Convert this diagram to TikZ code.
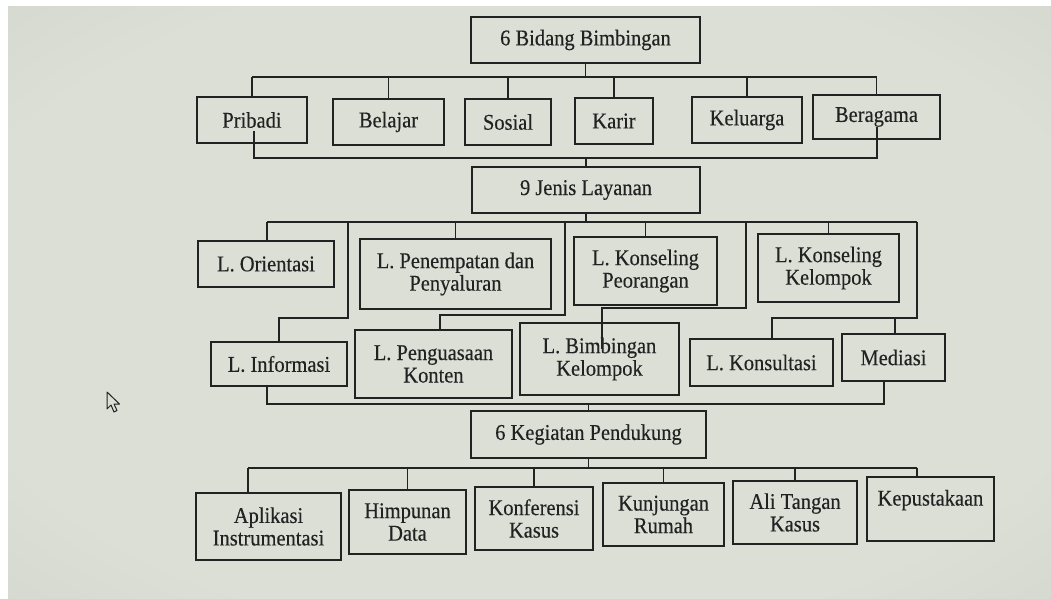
\documentclass[tikz,border=0pt]{standalone}
\usepackage{fontspec}
\setmainfont{Liberation Serif}
\newfontfamily\boxfont{Liberation Serif}[FakeStretch=0.91, FakeBold=0.3]
\usetikzlibrary{calc}
\definecolor{ink}{RGB}{34,34,34}
\definecolor{scrin}{RGB}{220,223,214}
\definecolor{scrmid}{RGB}{202,206,196}
\definecolor{scrout}{RGB}{156,162,152}
\pgfdeclareradialshading{screen}{\pgfpoint{0bp}{0bp}}{%
  color(0bp)=(scrin); color(28bp)=(scrin); color(50bp)=(scrmid); color(72bp)=(scrout)}
\begin{document}
\begin{tikzpicture}[x=1pt,y=-1pt,
  bx/.style={draw=ink, line width=1.8pt, text=ink, align=center, inner sep=0pt,
             font=\boxfont\fontsize{22.5}{22.5}\selectfont},
  heavy/.style={line width=2.4pt},
  sz/.style 2 args={minimum width=#1, minimum height=#2},
  wire/.style={draw=ink, line width=1.8pt}]
\useasboundingbox (0,0) rectangle (1051,599);
% screen background
\fill[white] (0,0) rectangle (1051,599);
\shade[shading=screen] (8,7) rectangle (1051,599);

% ---- level 1 ----
\node[bx, heavy, sz={229pt}{46pt}] (top) at (585.5,40) {6 Bidang Bimbingan};

% ---- level 2: bidang ----
\node[bx, heavy, sz={110pt}{46pt}] (pri) at (252,120)   {Pribadi};
\node[bx, heavy, sz={111pt}{46pt}] (bel) at (388.5,122) {Belajar};
\node[bx, heavy, sz={86pt}{46pt}]  (sos) at (508,122)   {Sosial};
\node[bx, heavy, sz={78pt}{46pt}]  (kar) at (614,121)   {Karir};
\node[bx, heavy, sz={110pt}{46pt}] (kel) at (747,120)   {Keluarga};
\node[bx, heavy, sz={127pt}{44pt}] (ber) at (876.5,117) {Beragama};

% ---- level 3: layanan ----
\node[bx, heavy, sz={228pt}{46pt}] (jen) at (586,190) {9 Jenis Layanan};

\node[bx, sz={136pt}{46pt}] (ori) at (266,264)     {L. Orientasi};
\node[bx, sz={191pt}{70pt}] (pen) at (455.5,274)   {L. Penempatan dan\\Penyaluran};
\node[bx, sz={143pt}{68pt}] (kpr) at (645.5,271)   {L. Konseling\\Peorangan};
\node[bx, sz={141pt}{68pt}] (kkl) at (828.5,268)   {L. Konseling\\Kelompok};

\node[bx, sz={136pt}{44pt}] (inf) at (279,364)     {L. Informasi};
\node[bx, sz={157pt}{68pt}] (pgu) at (433.5,364)   {L. Penguasaan\\Konten};
\node[bx, sz={159pt}{72pt}] (bim) at (599.5,359)   {L. Bimbingan\\Kelompok};
\node[bx, sz={143pt}{47pt}] (kon) at (761.5,362.5) {L. Konsultasi};
\node[bx, sz={103pt}{47pt}] (med) at (893.5,357.5) {Mediasi};

% ---- level 4: kegiatan pendukung ----
\node[bx, sz={235pt}{47pt}] (keg) at (588.5,434.5) {6 Kegiatan Pendukung};

\node[bx, sz={145pt}{67pt}] (apl) at (268.5,526.5) {Aplikasi\\Instrumentasi};
\node[bx, sz={117pt}{64pt}] (him) at (407.5,522)   {Himpunan\\Data};
\node[bx, sz={118pt}{63pt}] (kfr) at (534,518.5)   {Konferensi\\Kasus};
\node[bx, sz={121pt}{63pt}] (kjr) at (663.5,514.5) {Kunjungan\\Rumah};
\node[bx, sz={124pt}{63pt}] (ali) at (795,512.5)   {Ali Tangan\\Kasus};
\node[bx, sz={127pt}{64pt}] (kep) at (930.5,509)   {Kepustakaan\\\mbox{}};

% ---- connectors: bidang ----
\coordinate (b1L) at (252,77);
\coordinate (b1R) at (877,77);
\draw[wire] (top.south) -- (top.south |- b1L);
\draw[wire] (b1L) -- (b1R);
\foreach \n in {pri,bel,sos,kar,kel,ber}
  \draw[wire] (\n.north |- b1L) -- (\n.north);

\coordinate (b2L) at (254,158);
\coordinate (b2R) at (877,158);
\draw[wire] ($(pri.south)+(2,-13)$) -- (b2L) -- (b2R) -- ($(ber.south)+(0.5,-13)$);
\draw[wire] (jen.north |- b2L) -- (jen.north);

% ---- connectors: layanan ----
\coordinate (b3L) at (267,222);
\coordinate (b3R) at (917,222);
\draw[wire] (jen.south) -- (jen.south |- b3L);
\draw[wire] (b3L) -- (b3R);
\draw[wire] (b3L) -- (b3L |- ori.north);
\foreach \n in {pen,kpr,kkl}
  \draw[wire] (\n.north |- b3L) -- (\n.north);

\coordinate (e1a) at (348,222);  \coordinate (e1b) at (348,318);
\draw[wire] (e1a) -- (e1b) -| (inf.north);
\coordinate (e2a) at (565,222);  \coordinate (e2b) at (565,315);
\draw[wire] (e2a) -- (e2b) -| ($(pgu.north)+(6.5,0)$);
\coordinate (e3a) at (746,222);  \coordinate (e3b) at (746,308);
\draw[wire] (e3a) -- (e3b) -| ($(bim.north)+(2.5,27)$);
\coordinate (e4b) at (917,318);
\draw[wire] (b3R) -- (e4b) -| ($(kon.north)+(10.5,0)$);
\coordinate (e4m) at (895,318);
\draw[wire] (e4m) -- (e4m |- med.north);

% ---- connectors: kegiatan pendukung ----
\coordinate (b4L) at (267,404);
\coordinate (b4R) at (884,404);
\draw[wire] (inf.south -| b4L) -- (b4L) -- (b4R) -- (med.south -| b4R);
\draw[wire] (keg.north |- b4L) -- (keg.north);

\coordinate (b5L) at (248,468);
\coordinate (b5R) at (917,468);
\draw[wire] (keg.south) -- (keg.south |- b5L);
\draw[wire] (b5L) -- (b5R);
\draw[wire] (b5L) -- (b5L |- apl.north);
\foreach \n in {him,kfr,kjr,ali}
  \draw[wire] (\n.north |- b5L) -- (\n.north);
\draw[wire] (b5R) -- (b5R |- kep.north);

% ---- mouse pointer ----
\draw[ink, line width=1pt, line join=round, fill=scrin]
  (107,392) -- (107,409) -- (111,405) -- (114,412) -- (117,410.5)
  -- (114,404) -- (119.5,404) -- cycle;
\end{tikzpicture}
\end{document}
